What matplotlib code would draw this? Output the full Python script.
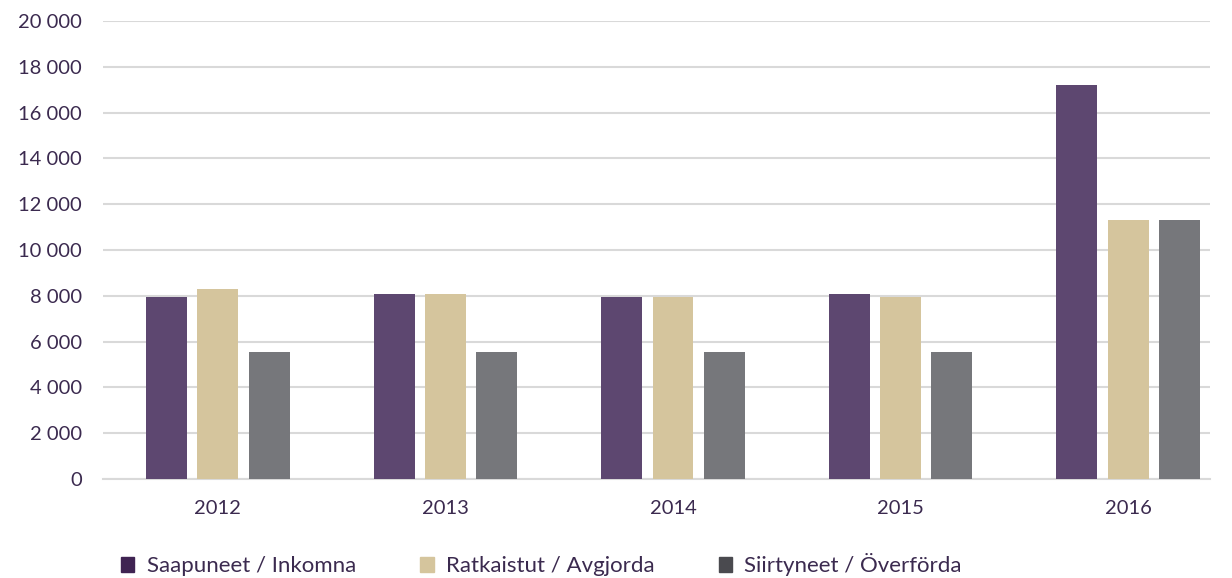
import numpy as np
import matplotlib.pyplot as plt
from matplotlib.patches import Patch
from matplotlib.ticker import FuncFormatter

years = ["2012", "2013", "2014", "2015", "2016"]
saapuneet = [7950, 8100, 7950, 8100, 17200]
ratkaistut = [8280, 8100, 7950, 7950, 11300]
siirtyneet = [5550, 5550, 5550, 5550, 11300]

labels = ["Saapuneet / Inkomna", "Ratkaistut / Avgjorda", "Siirtyneet / Överförda"]
bar_colors = ["#5D4770", "#D5C59D", "#76777B"]
legend_colors = ["#3F2352", "#D5C59D", "#4A4A4F"]
text_color = "#3B2A4F"

plt.rcParams["font.family"] = ["Lato", "DejaVu Sans"]

fig = plt.figure(figsize=(12.32, 5.78), dpi=100)
ax = fig.add_axes([103 / 1232, (578 - 479) / 578, (1210 - 103) / 1232, (479 - 21) / 578])

x = np.arange(len(years))
offset = 0.225
width = 0.18
for i, vals in enumerate([saapuneet, ratkaistut, siirtyneet]):
    ax.bar(x + (i - 1) * offset, vals, width=width, color=bar_colors[i], zorder=3)

ax.set_ylim(0, 20000)
ax.set_xlim(-0.505, 4.36)
ax.set_yticks(np.arange(0, 20001, 2000))
ax.yaxis.set_major_formatter(FuncFormatter(lambda v, p: f"{int(v):,}".replace(",", " ")))
ax.set_xticks(x)
ax.set_xticklabels(years)

ax.grid(axis="y", color="#D9D9D9", linewidth=1.5, zorder=0)
ax.set_axisbelow(True)
for s in ["top", "right", "left"]:
    ax.spines[s].set_visible(False)
ax.spines["bottom"].set_color("#D9D9D9")
ax.spines["bottom"].set_linewidth(1.5)
ax.tick_params(length=0, colors=text_color, labelsize=14.5)
ax.tick_params(axis="y", pad=15)
ax.tick_params(axis="x", pad=15)

handles = [Patch(color=c, label=l) for c, l in zip(legend_colors, labels)]
fig.legend(handles=handles, loc="center left", bbox_to_anchor=(101 / 1232, 1 - 565 / 578),
           ncol=3, frameon=False, handlelength=0.6, handleheight=0.65, handletextpad=0.55,
           columnspacing=2.9, prop={"size": 16}, labelcolor=text_color)

plt.savefig("out.png", dpi=100)
